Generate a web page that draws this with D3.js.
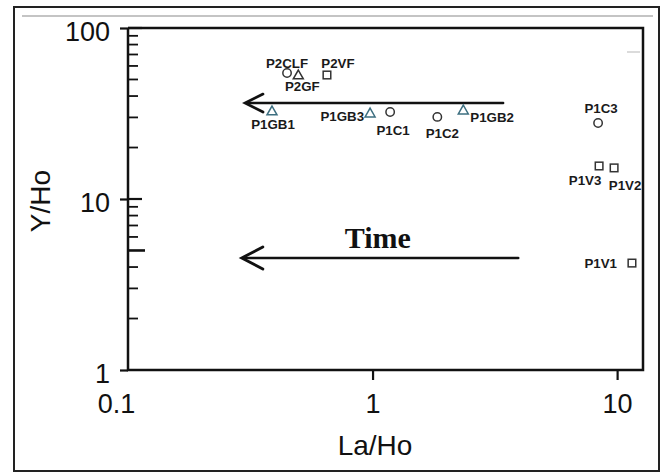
<!DOCTYPE html>
<html>
<head>
<meta charset="utf-8">
<script src="https://cdn.jsdelivr.net/npm/d3@7"></script>
<style>
html,body{margin:0;padding:0;background:#fff;}
svg{display:block;}
</style>
</head>
<body>
<svg id="chart" width="664" height="473"></svg>
<script>
// ---- data ----
const labels = ["P2CLF","P2GF","P2VF","P1GB1","P1GB3","P1C1","P1C2","P1GB2","P1C3","P1V3","P1V2","P1V1"];
const laHo   = [0.447, 0.497, 0.651, 0.388, 0.977, 1.18, 1.84, 2.35, 8.36, 8.44, 9.72, 11.5];
const yHo    = [54.6, 53.1, 53.1, 32.7, 31.8, 32.3, 30.2, 33.1, 27.8, 15.6, 15.2, 4.22];
const shapes = ["circle","triangle","square","triangle","triangle","circle","circle","triangle","circle","square","square","square"];
const yTickLabels = ["1","10","100"];
const xTickLabels = ["0.1","1","10"];
const yMinorTicks = [2,3,4,5,6,7,8,9,20,30,40,50,60,70,80,90];
// annotation arrows (data units): [x tip, x tail, y]
const upperArrow = [0.301, 3.42, 36.4];
const timeArrow  = [0.292, 3.94, 4.52];
const timeLabel  = ["Time", 1.05, 5.17];

// ---- layout ----
const svg = d3.select("#chart");
const L = 128, R = 643, T = 28, B = 370;
const x = d3.scaleLog().domain([0.1, 12.76]).range([L, R]);
const y = d3.scaleLog().domain([1, 100]).range([B, T]);

// outer frame
svg.append("rect").attr("x",14).attr("y",7).attr("width",645).attr("height",464)
  .attr("fill","none").attr("stroke","#222").attr("stroke-width",2);
svg.append("line").attr("x1",22).attr("x2",653).attr("y1",16).attr("y2",16)
  .attr("stroke","#c4c4c4").attr("stroke-width",2);
svg.append("line").attr("x1",627).attr("x2",640).attr("y1",52).attr("y2",52)
  .attr("stroke","#cfcfcf").attr("stroke-width",1.5);

const font = "'Liberation Sans', Arial, Helvetica, sans-serif";

// y axis (major ticks) via d3.axisLeft
const yAxis = d3.axisLeft(y).tickValues([1,10,100]).tickFormat((d,i)=>yTickLabels[i]).tickSize(8).tickPadding(10);
const gy = svg.append("g").attr("transform",`translate(${L},0)`).call(yAxis);
gy.select(".domain").remove();
gy.selectAll(".tick line").attr("stroke","#111").attr("stroke-width",2.2);
gy.selectAll(".tick text").attr("font-family",font).attr("font-size",27).attr("fill","#111").attr("dy","0.48em");
// inward major tick part
svg.append("g").selectAll("line").data([10,100]).join("line")
  .attr("x1",L).attr("x2",L+14).attr("y1",d=>y(d)).attr("y2",d=>y(d))
  .attr("stroke","#111").attr("stroke-width",2.2);
// minor ticks (inward)
svg.append("g").selectAll("line").data(yMinorTicks).join("line")
  .attr("x1",L).attr("x2",d=>L+((d===5)?17:10)).attr("y1",d=>y(d)).attr("y2",d=>y(d))
  .attr("stroke","#111").attr("stroke-width",d=>d===5?2.6:1.8);

// x axis
const xAxis = d3.axisBottom(x).tickValues([0.1,1,10]).tickFormat((d,i)=>xTickLabels[i]).tickSize(10).tickPadding(14);
const gx = svg.append("g").attr("transform",`translate(0,${B})`).call(xAxis);
gx.select(".domain").remove();
gx.selectAll(".tick line").attr("stroke","#111").attr("stroke-width",2.2)
  .attr("opacity",(d)=>d===0.1?0:1);
gx.selectAll(".tick text").attr("font-family",font).attr("font-size",27).attr("fill","#111")
  .attr("dx",(d)=>d===0.1?-12:0);

// plot frame lines
const frame = svg.append("g").attr("stroke","#111").attr("stroke-width",2.5).attr("fill","none");
frame.append("path").attr("d",`M${L},${T}V${B}H${R}V${T}H${L}`).attr("stroke-linejoin","miter");

// axis titles
svg.append("text").attr("x",375).attr("y",455).attr("text-anchor","middle")
  .attr("font-family",font).attr("font-size",28).attr("fill","#111").text("La/Ho");
svg.append("text").attr("transform","translate(50,201) rotate(-90)").attr("text-anchor","middle")
  .attr("font-family",font).attr("font-size",28).attr("fill","#111").text("Y/Ho");

// arrows
function arrow(a, head, w){
  const g = svg.append("g").attr("stroke","#111").attr("fill","none").attr("stroke-linecap","round");
  const xt = x(a[0]), xe = x(a[1]), yy = y(a[2]);
  g.append("line").attr("x1",xt+3).attr("x2",xe).attr("y1",yy).attr("y2",yy).attr("stroke-width",w);
  g.append("path").attr("d",`M${xt+head[0]},${yy-head[1]}L${xt},${yy}L${xt+head[0]},${yy+head[1]}`)
    .attr("stroke-width",w+0.3).attr("stroke-linejoin","miter");
}
arrow(upperArrow,[18,9],2.4);
arrow(timeArrow,[21,11],2.6);
svg.append("text").attr("x",x(timeLabel[1])).attr("y",y(timeLabel[2])).attr("text-anchor","middle")
  .attr("font-family","'Liberation Serif','Times New Roman',serif").attr("font-weight","bold")
  .attr("font-size",30).attr("fill","#111").text(timeLabel[0]);

// markers
const pts = labels.map((l,i)=>({label:l, x:laHo[i], y:yHo[i], shape:shapes[i]}));
const mk = svg.append("g");
pts.forEach(p=>{
  const cx = x(p.x), cy = y(p.y);
  let el;
  if(p.shape==="circle"){
    el = mk.append("circle").attr("cx",cx).attr("cy",cy).attr("r",4.2);
  } else if(p.shape==="square"){
    el = mk.append("rect").attr("x",cx-3.8).attr("y",cy-3.8).attr("width",7.6).attr("height",7.6);
  } else {
    el = mk.append("path").attr("d",`M${cx},${cy-5}L${cx+5},${cy+3.8}L${cx-5},${cy+3.8}Z`);
  }
  el.attr("fill","#fff").attr("stroke",p.label.startsWith("P1GB")?"#3d6f80":"#333").attr("stroke-width",1.5);
});

// label placement (layout only)
const labelPlace = {
  P2CLF:[0,-10,"middle"], P2GF:[4,11,"middle"], P2VF:[11,-12,"middle"],
  P1GB1:[1,13,"middle"], P1GB3:[-6,3,"end"], P1C1:[3,18,"middle"], P1C2:[5,16,"middle"],
  P1GB2:[7,7,"start"], P1C3:[3,-15,"middle"], P1V3:[-14,14,"middle"], P1V2:[11,17,"middle"],
  P1V1:[-15,0,"end"]
};
svg.append("g").selectAll("text").data(pts).join("text")
  .attr("x",d=>x(d.x)+labelPlace[d.label][0])
  .attr("y",d=>y(d.y)+labelPlace[d.label][1])
  .attr("dy","0.36em")
  .attr("text-anchor",d=>labelPlace[d.label][2])
  .attr("font-family",font).attr("font-weight","bold").attr("font-size",13.3).attr("fill","#1a1a1a")
  .text(d=>d.label);
</script>
</body>
</html>
